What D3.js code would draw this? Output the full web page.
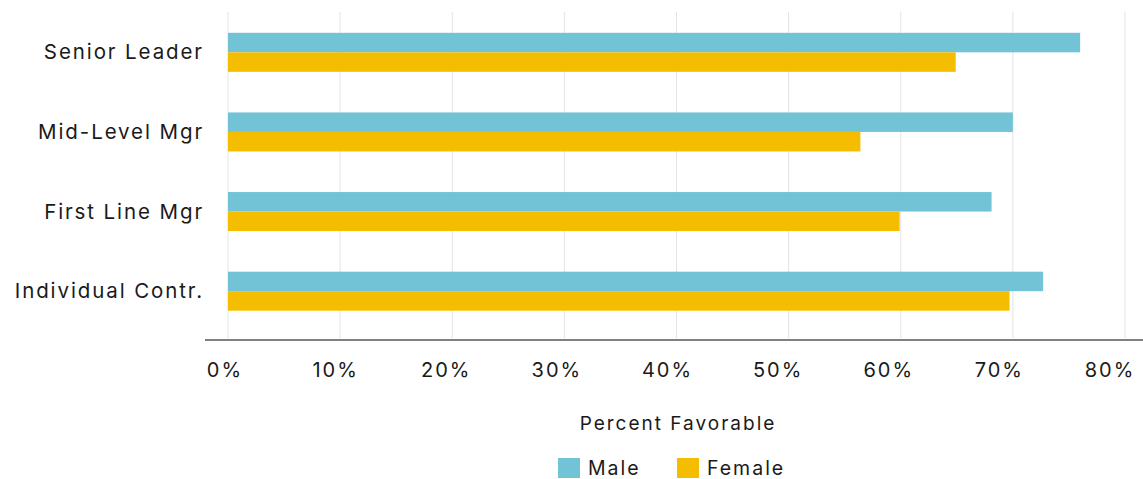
<!DOCTYPE html>
<html><head><meta charset="utf-8">
<script src="https://cdn.jsdelivr.net/npm/d3@7"></script>
<style>body{margin:0;background:#fff;} text{font-family:Inter, "Open Sans", sans-serif; fill:#1a1a1a;}</style>
</head><body><svg id="c" width="1143" height="479"></svg>
<script>
const categories = ["Senior Leader","Mid-Level Mgr","First Line Mgr","Individual Contr."];
const seriesNames = ["Male","Female"];
const maleValues = [76.0, 70.0, 68.1, 72.7];
const femaleValues = [64.9, 56.4, 59.9, 69.7];
const tickValues = [0,10,20,30,40,50,60,70,80];
const tickLabels = ["0%","10%","20%","30%","40%","50%","60%","70%","80%"];
const colors = ["#72C3D6","#F5BD00"];

const svg = d3.select("#c");
const x = d3.scaleLinear().domain([0,80]).range([228,1125]);
const xl = d3.scaleLinear().domain([0,80]).range([224,1109]);
const y = d3.scaleBand().domain(categories).range([12.5,331]).paddingInner(0.51).paddingOuter(0.255);
const ys = d3.scaleBand().domain(seriesNames).range([0,y.bandwidth()]);

// grid
svg.append("g").selectAll("line").data(tickValues).join("line")
  .attr("x1",d=>x(d)).attr("x2",d=>x(d)).attr("y1",12).attr("y2",338)
  .attr("stroke","#e3e3e3").attr("stroke-width",1);

const data = categories.map((c,i)=>({c, vals:[maleValues[i],femaleValues[i]]}));
const g = svg.append("g").selectAll("g").data(data).join("g")
  .attr("transform",d=>`translate(0,${y(d.c)})`);
g.selectAll("rect").data(d=>d.vals.map((v,j)=>({v,s:seriesNames[j],j}))).join("rect")
  .attr("x",x(0)).attr("y",d=>ys(d.s)).attr("width",d=>x(d.v)-x(0)).attr("height",ys.bandwidth())
  .attr("fill",d=>colors[d.j]);

// axis line
svg.append("line").attr("x1",205).attr("x2",1143).attr("y1",340).attr("y2",340)
  .attr("stroke","#808080").attr("stroke-width",2);

// tick labels
svg.append("g").selectAll("text").data(tickValues).join("text")
  .attr("x",d=>xl(d)+1).attr("y",377).attr("text-anchor","middle")
  .attr("font-size",20).attr("letter-spacing",2).text((d,i)=>tickLabels[i]);

// category labels
svg.append("g").selectAll("text").data(categories).join("text")
  .attr("x",204).attr("y",d=>y(d)+y.bandwidth()/2).attr("dy","0.35em")
  .attr("text-anchor","end").attr("font-size",20.5).attr("letter-spacing",1.9).text(d=>d);

svg.append("text").attr("x",678).attr("y",423).attr("dy","0.35em").attr("text-anchor","middle")
  .attr("font-size",19).attr("letter-spacing",2).text("Percent Favorable");

// legend
const legX = [558, 677];
const lg = svg.append("g").selectAll("g").data(seriesNames).join("g")
  .attr("transform",(d,i)=>`translate(${legX[i]},458)`);
lg.append("rect").attr("width",22).attr("height",20).attr("fill",(d,i)=>colors[i]);
lg.append("text").attr("x",30).attr("y",10).attr("dy","0.35em").attr("font-size",19.5).attr("letter-spacing",2).text(d=>d);
</script></body></html>
